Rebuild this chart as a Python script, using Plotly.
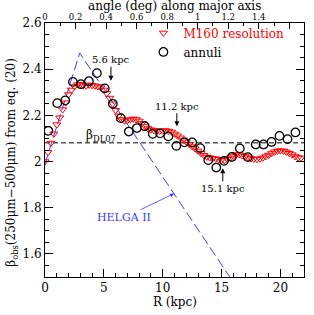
import plotly.graph_objects as go

# ---- data ----
R_m160 = [0.0, 0.25, 0.5, 0.75, 1.0, 1.25, 1.5, 1.75, 2.0, 2.25, 2.5, 2.75, 3.0, 3.25, 3.5, 3.75,
          4.0, 4.25, 4.5, 4.75, 5.0, 5.25, 5.5, 5.75, 6.0, 6.25, 6.5, 6.75, 7.0, 7.25, 7.5, 7.75,
          8.0, 8.25, 8.5, 8.75, 9.0, 9.25, 9.5, 9.75, 10.0, 10.25, 10.5, 10.75, 11.0, 11.25, 11.5,
          11.75, 12.0, 12.25, 12.5, 12.75, 13.0, 13.25, 13.5, 13.75, 14.0, 14.25, 14.5, 14.75, 15.0,
          15.25, 15.5, 15.75, 16.0, 16.25, 16.5, 16.75, 17.0, 17.25, 17.5, 17.75, 18.0, 18.25, 18.5,
          18.75, 19.0, 19.25, 19.5, 19.75, 20.0, 20.25, 20.5, 20.75, 21.0, 21.25, 21.5, 21.75]
beta_m160 = [2.00, 2.04, 2.08, 2.12, 2.16, 2.19, 2.225, 2.255, 2.29, 2.31, 2.325, 2.333, 2.335, 2.33,
             2.328, 2.332, 2.33, 2.328, 2.325, 2.32, 2.31, 2.295, 2.275, 2.25, 2.222, 2.198, 2.182,
             2.176, 2.178, 2.182, 2.185, 2.182, 2.176, 2.165, 2.152, 2.143, 2.138, 2.135, 2.133,
             2.132, 2.133, 2.134, 2.132, 2.128, 2.12, 2.112, 2.103, 2.094, 2.085, 2.075, 2.065,
             2.056, 2.046, 2.036, 2.027, 2.02, 2.017, 2.014, 2.012, 2.01, 2.006, 2.004, 2.01, 2.016,
             2.024, 2.03, 2.03, 2.026, 2.022, 2.017, 2.013, 2.011, 2.01, 2.012, 2.016, 2.022, 2.028,
             2.035, 2.042, 2.046, 2.047, 2.046, 2.042, 2.036, 2.03, 2.022, 2.017, 2.016]

R_annuli = [0.28, 1.04, 1.72, 2.37, 3.05, 3.73, 4.41, 5.08, 5.76, 6.44, 7.12, 7.80, 8.47, 9.15,
            9.78, 10.48, 11.16, 11.84, 12.50, 13.19, 13.87, 14.55, 15.20, 15.87, 16.55, 17.23,
            17.90, 18.56, 19.24, 19.92, 20.60, 21.27]
beta_annuli = [2.133, 2.253, 2.265, 2.345, 2.335, 2.348, 2.383, 2.317, 2.250, 2.188, 2.130, 2.145,
               2.153, 2.120, 2.122, 2.109, 2.068, 2.083, 2.083, 2.058, 2.006, 1.974, 2.003, 2.020,
               2.057, 2.019, 2.074, 2.074, 2.085, 2.111, 2.097, 2.126]

R_helga = [0.0, 2.95, 16.0]
beta_helga = [1.99, 2.47, 1.477]

beta_DL07 = 2.081
R_span = [0.0, 22.0]

arrow_R = [5.6, 11.2, 15.1]
arrow_beta = [2.35, 2.153, 1.971]
arrow_text = ["5.6 kpc", "11.2 kpc", "15.1 kpc"]
arrow_dy = [-21, -20, 20]

KPC_PER_DEG = 12.97

FONT = "DejaVu Serif"
BLUE = "#3b3bff"

fig = go.Figure()

fig.add_trace(go.Scatter(x=R_span, y=[beta_DL07, beta_DL07], mode="lines",
                         line=dict(color="black", width=1, dash="5px,3px"),
                         showlegend=False, hoverinfo="skip"))
fig.add_trace(go.Scatter(x=R_helga, y=beta_helga, mode="lines",
                         line=dict(color=BLUE, width=1, dash="10px,4px"),
                         showlegend=False, hoverinfo="skip"))
fig.add_trace(go.Scatter(x=R_m160, y=beta_m160, mode="markers",
                         name="<span style='color:red'>M160 resolution</span>",
                         marker=dict(symbol="triangle-down-open", size=7, color="red",
                                     line=dict(width=1, color="red"))))
fig.add_trace(go.Scatter(x=R_annuli, y=beta_annuli, mode="markers", name="annuli",
                         marker=dict(symbol="circle-open", size=8.5, color="black",
                                     line=dict(width=1.3, color="black"))))
# invisible trace to carry the top axis
fig.add_trace(go.Scatter(x=[0, R_span[1] / KPC_PER_DEG], y=[2, 2], xaxis="x2", mode="none",
                         showlegend=False, hoverinfo="skip"))

for R, b, t, dy in zip(arrow_R, arrow_beta, arrow_text, arrow_dy):
    fig.add_annotation(x=R, y=b, text=t, showarrow=True, ax=0, ay=dy,
                       arrowhead=2, arrowsize=1, arrowwidth=1, arrowcolor="black",
                       font=dict(family=FONT, size=10, color="black"))

fig.add_annotation(x=10.96, y=1.861, text="HELGA II", showarrow=True, ax=-50, ay=24,
                   arrowhead=2, arrowsize=1, arrowwidth=0.8, arrowcolor=BLUE,
                   font=dict(family=FONT, size=11, color=BLUE))
fig.add_annotation(x=4.75, y=2.112, text="β<sub>DL07</sub>", showarrow=False,
                   font=dict(family=FONT, size=12, color="black"))
# axis titles
fig.add_annotation(x=0.5, y=-0.1, xref="paper", yref="paper", text="R (kpc)",
                   showarrow=False, yanchor="middle",
                   font=dict(family=FONT, size=12, color="black"))
fig.add_annotation(x=0.5, y=1.068, xref="paper", yref="paper",
                   text="angle (deg) along major axis",
                   showarrow=False, yanchor="middle",
                   font=dict(family=FONT, size=12, color="black"))
fig.add_annotation(x=-0.127, y=0.45, xref="paper", yref="paper", textangle=-90,
                   text="β<sub>obs</sub>(250μm−500μm) from eq. (20)",
                   showarrow=False, xanchor="center", yanchor="middle",
                   font=dict(family=FONT, size=12, color="black"))

axis_common = dict(showline=True, linecolor="black", linewidth=1, ticks="inside",
                   tickcolor="black", showgrid=False, zeroline=False, automargin=False,
                   tickfont=dict(family=FONT, size=12, color="black"))

fig.update_layout(
    width=314, height=315,
    margin=dict(l=45, r=10, t=23, b=38),
    plot_bgcolor="white", paper_bgcolor="white",
    font=dict(family=FONT, size=12, color="black"),
    showlegend=True,
    legend=dict(x=0.38, y=1.018, xanchor="left", yanchor="top", bgcolor="rgba(0,0,0,0)",
                font=dict(family=FONT, size=12), itemwidth=30, tracegroupgap=0),
    xaxis=dict(range=[0, 22], dtick=5, tick0=0, ticklen=8, mirror=True,
               minor=dict(dtick=1, ticklen=4, ticks="inside", tickcolor="black"),
               **axis_common),
    xaxis2=dict(range=[0, 22 / KPC_PER_DEG], overlaying="x", side="top", dtick=0.2, tick0=0,
                ticklen=6, showline=False, ticks="inside", tickcolor="black", showgrid=False,
                zeroline=False, automargin=False, labelalias={"1.6": ""},
                tickfont=dict(family=FONT, size=8.5, color="black"),
                minor=dict(dtick=0.1, ticklen=3, ticks="inside", tickcolor="black")),
    yaxis=dict(range=[1.5, 2.6], dtick=0.2, tick0=1.6, ticklen=8, mirror="ticks",
               minor=dict(dtick=0.05, ticklen=4, ticks="inside", tickcolor="black"),
               **axis_common),
)

fig.write_html("out.html", config={"displayModeBar": False},
               post_script="document.body.style.margin='0px';")
